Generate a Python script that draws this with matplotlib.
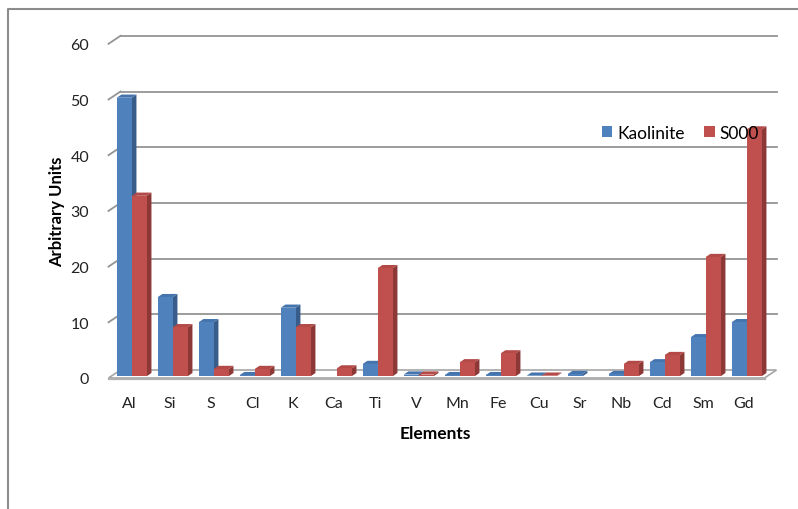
import matplotlib.pyplot as plt
from matplotlib.patches import Polygon, Patch
from matplotlib.lines import Line2D
from matplotlib.transforms import IdentityTransform
import numpy as np

plt.rcParams['font.family'] = ['Lato', 'DejaVu Sans']

elements = ['Al', 'Si', 'S', 'Cl', 'K', 'Ca', 'Ti', 'V', 'Mn', 'Fe', 'Cu', 'Sr', 'Nb', 'Cd', 'Sm', 'Gd']
kaolinite = [50.0, 14.2, 9.7, 0.2, 12.3, 0.0, 2.2, 0.3, 0.2, 0.2, 0.1, 0.4, 0.4, 2.5, 7.0, 9.7]
s000 = [32.4, 8.8, 1.3, 1.3, 8.8, 1.4, 19.4, 0.3, 2.5, 4.1, 0.1, 0.0, 2.2, 3.8, 21.4, 44.3]
yticks = [0, 10, 20, 30, 40, 50, 60]

# face colours: front, top, side
blue = ('#4F81BD', '#4675AE', '#385D8A')
red = ('#C0504D', '#B34A47', '#8C3836')

W, H = 798, 510
fig = plt.figure(figsize=(W / 100, H / 100), dpi=100)
fig.patch.set_facecolor('white')

# front plane of the 3d box
ax = fig.add_axes([108.5 / W, (H - 379) / H, 656 / W, 334.2 / H])
ax.set_xlim(-0.5, len(elements) - 0.5)
ax.set_ylim(0, 60)
ax.patch.set_visible(False)
for s in ax.spines.values():
    s.set_visible(False)

DEPTH = np.array([12.0, 8.0])  # pixel shift from front to back wall


def pt(x, v, dz=0.0):
    p = ax.transData.transform((x, v))
    return p + DEPTH * dz


def poly(pts, fc, ec='none', lw=0, z=2):
    p = Polygon(np.array(pts), closed=True, facecolor=fc, edgecolor=ec,
                linewidth=lw, transform=IdentityTransform(), zorder=z)
    fig.add_artist(p)


def line(p0, p1, color='#949494', lw=1.3, z=1):
    fig.add_artist(Line2D([p0[0], p1[0]], [p0[1], p1[1]], color=color, lw=lw,
                          transform=IdentityTransform(), zorder=z))


x0, x1 = -0.5, len(elements) - 0.5

# floor
poly([pt(x0, 0), pt(x1, 0), pt(x1, 0, 1), pt(x0, 0, 1)], '#FFFFFF', '#A6A6A6', 1.2, z=1)
line(pt(x0, 0) + [0, -1], pt(x1, 0) + [0, -1], color='#B0B0B0', lw=1.6, z=1)

# back wall gridlines and left wall ticks
for v in yticks[1:]:
    line(pt(x0, v, 1), pt(x1, v, 1))
    line(pt(x0, v, 0), pt(x0, v, 1))

# bars
w = 15 / 41
dz0, dz1 = 0.22, 0.62
for i in range(len(elements)):
    for left, v, col in ((i - w, kaolinite[i], blue), (i, s000[i], red)):
        if v <= 0:
            continue
        right = left + w
        # side face
        poly([pt(right, 0, dz0), pt(right, 0, dz1), pt(right, v, dz1), pt(right, v, dz0)], col[2], z=3)
        # top face
        poly([pt(left, v, dz0), pt(right, v, dz0), pt(right, v, dz1), pt(left, v, dz1)], col[1], z=3)
        # front face
        poly([pt(left, 0, dz0), pt(right, 0, dz0), pt(right, v, dz0), pt(left, v, dz0)], col[0], z=3)

ax.set_yticks(yticks)
ax.set_yticklabels([str(t) for t in yticks], fontsize=11.5, color='#222222')
ax.set_xticks(range(len(elements)))
ax.set_xticklabels(elements, fontsize=11.5, color='#222222')
ax.tick_params(axis='y', length=0, pad=14)
ax.tick_params(axis='x', length=0, pad=13)

fig.text(435.5 / W, 1 - 434 / H, 'Elements', ha='center', va='center',
         fontsize=12.5, fontweight='bold')
fig.text(57 / W, 1 - 212 / H, 'Arbitrary Units', ha='center', va='center',
         rotation=90, fontsize=12, fontweight='bold')

handles = [Patch(facecolor=blue[0], label='Kaolinite'), Patch(facecolor=red[0], label='S000')]
leg = fig.legend(handles=handles, loc='center left', bbox_to_anchor=(602 / W, 1 - 134 / H),
                 ncol=2, frameon=False, fontsize=12.5, handlelength=0.6, handleheight=0.6,
                 handletextpad=0.3, columnspacing=1.1, borderaxespad=0, borderpad=0)
leg.set_zorder(10)

# chart area border
fig.add_artist(Line2D([8, 8, W], [0, H - 10, H - 10], color='#8C8C8C', lw=1.5,
                      transform=IdentityTransform(), zorder=5))

fig.savefig('out.png', dpi=100)
